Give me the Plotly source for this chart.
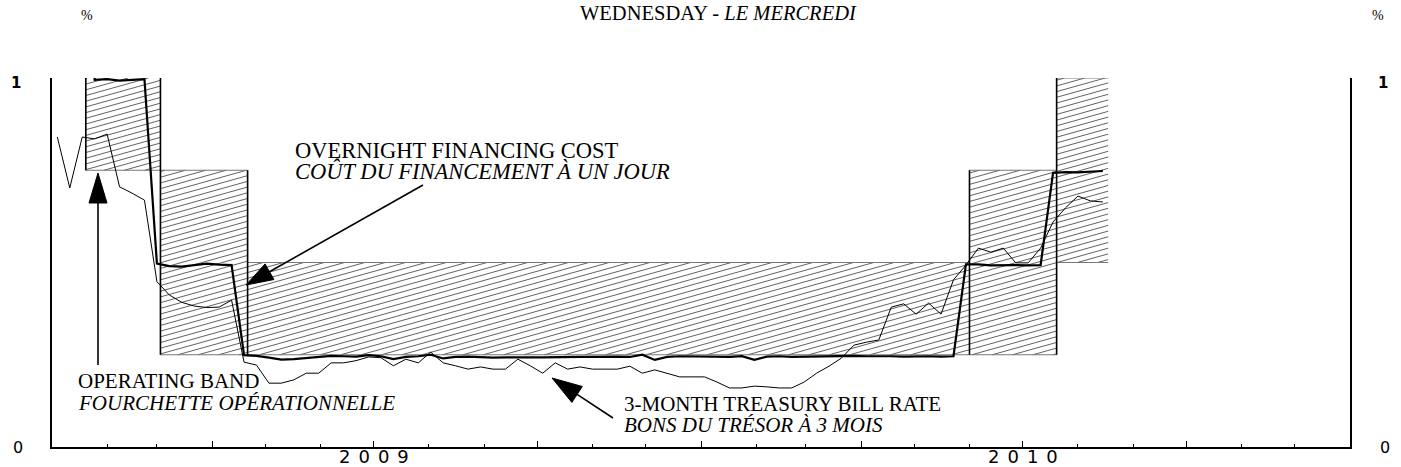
import numpy as np
import pandas as pd
import plotly.graph_objects as go

# ---------------- data ----------------
# weekly observations (plotted one point per week)
week_dates = pd.date_range("2009-01-04", periods=85, freq="7D").strftime("%Y-%m-%d").tolist()

overnight_cost = [1.5, 1.5, 1.5, 0.995, 0.997, 0.993, 0.996, 0.997, 0.497, 0.490,
                  0.489, 0.493, 0.497, 0.494, 0.493, 0.249, 0.247, 0.242, 0.237, 0.238,
                  0.241, 0.246, 0.247, 0.246, 0.245, 0.249, 0.246, 0.238, 0.244, 0.246,
                  0.250, 0.240, 0.244, 0.245, 0.243, 0.242, 0.243, 0.244, 0.243, 0.243,
                  0.244, 0.243, 0.244, 0.244, 0.245, 0.245, 0.244, 0.250, 0.236, 0.244,
                  0.246, 0.245, 0.246, 0.245, 0.244, 0.246, 0.236, 0.245, 0.246, 0.244,
                  0.245, 0.246, 0.245, 0.246, 0.247, 0.246, 0.247, 0.246, 0.245, 0.246,
                  0.246, 0.245, 0.246, 0.495, 0.495, 0.492, 0.493, 0.493, 0.492, 0.493,
                  0.743, 0.745, 0.744, 0.746, 0.748]

tbill_3m = [0.840, 0.702, 0.840, 0.835, 0.848, 0.705, 0.688, 0.669, 0.448, 0.412,
            0.392, 0.382, 0.378, 0.379, 0.398, 0.230, 0.222, 0.173, 0.173, 0.182,
            0.200, 0.200, 0.228, 0.228, 0.234, 0.244, 0.242, 0.220, 0.238, 0.228,
            0.257, 0.228, 0.220, 0.211, 0.217, 0.211, 0.211, 0.238, 0.220, 0.200,
            0.228, 0.211, 0.217, 0.211, 0.211, 0.211, 0.219, 0.200, 0.209, 0.200,
            0.190, 0.190, 0.190, 0.176, 0.160, 0.160, 0.165, 0.163, 0.160, 0.160,
            0.176, 0.200, 0.219, 0.241, 0.276, 0.284, 0.290, 0.379, 0.388, 0.360,
            0.390, 0.360, 0.453, 0.493, 0.539, 0.528, 0.539, 0.499, 0.499, 0.539,
            0.610, 0.648, 0.680, 0.667, 0.664]

# operating band (changes on announcement dates)
band_dates = ["2009-01-01", "2009-01-20", "2009-03-03", "2009-04-21", "2010-06-01", "2010-07-20", "2010-08-18"]
band_low = [1.25, 0.75, 0.25, 0.25, 0.25, 0.50, 0.50]
band_high = [1.75, 1.25, 0.75, 0.50, 0.75, 1.00, 1.00]

year_labels = ["2009", "2010"]
year_label_dates = ["2009-07-01", "2010-07-01"]
y_tick_labels = ["0", "1"]

# ---------------- layout geometry ----------------
W, H = 1401, 467
L, R, T, B = 52, 51, 78, 20
PW, PH = W - L - R, H - T - B
X0, X1 = "2009-01-01", "2011-01-01"
Y0, Y1 = 0.0, 1.0


def px(x):
    return (x - L) / PW


def py(y):
    return (H - B - y) / PH


SERIF = "Liberation Serif"
SANS = "DejaVu Sans"

fig = go.Figure()

# ---- hatch lines for the operating band (built from the band arrays) ----
t0 = pd.Timestamp(X0)
ndays = (pd.Timestamp(X1) - t0).days
px_per_day = PW / ndays
px_per_unit = PH / (Y1 - Y0)
slope = 0.28 * px_per_day / px_per_unit
gap = 5.7 / px_per_unit
bd = [(pd.Timestamp(d) - t0).days for d in band_dates]
hx, hy = [], []
for i in range(len(bd) - 1):
    d0, d1 = bd[i], bd[i + 1]
    v0, v1 = max(band_low[i], Y0), min(band_high[i], Y1)
    if v1 <= v0:
        continue
    cmin = v0 - slope * d1
    cmax = v1 - slope * d0
    for k in range(int(np.floor(cmin / gap)), int(np.ceil(cmax / gap)) + 1):
        c = k * gap
        da = max(d0, (v0 - c) / slope)
        db = min(d1, (v1 - c) / slope)
        if db > da:
            hx += [(t0 + pd.Timedelta(days=da)).isoformat(), (t0 + pd.Timedelta(days=db)).isoformat(), None]
            hy += [c + slope * da, c + slope * db, None]

fig.add_trace(go.Scatter(x=hx, y=hy, mode="lines", line=dict(color="#3a3a3a", width=0.8),
                         hoverinfo="skip", showlegend=False))

# band horizontal edges (grey) and vertical edges (black)
fig.add_trace(go.Scatter(x=band_dates, y=band_low, mode="lines", line=dict(color="#777", width=1, shape="hv"),
                         hoverinfo="skip", showlegend=False))
fig.add_trace(go.Scatter(x=band_dates, y=band_high, mode="lines", line=dict(color="#777", width=1, shape="hv"),
                         hoverinfo="skip", showlegend=False))
vx, vy = [], []
for i in range(1, len(band_dates) - 1):
    lo = min(band_low[i - 1], band_low[i], band_high[i - 1], band_high[i])
    hi = max(band_low[i - 1], band_low[i], band_high[i - 1], band_high[i])
    vx += [band_dates[i], band_dates[i], None]
    vy += [lo, hi, None]
fig.add_trace(go.Scatter(x=vx, y=vy, mode="lines", line=dict(color="black", width=1.6),
                         hoverinfo="skip", showlegend=False))

# ---- series ----
fig.add_trace(go.Scatter(x=week_dates, y=tbill_3m, mode="lines", line=dict(color="black", width=1),
                         name="3-month treasury bill rate", showlegend=False))
fig.add_trace(go.Scatter(x=week_dates, y=overnight_cost, mode="lines", line=dict(color="black", width=2.2),
                         name="Overnight financing cost", showlegend=False))

# ---- axes ----
fig.update_xaxes(range=[X0, X1], showgrid=False, zeroline=False, showline=True, linecolor="black", linewidth=1.5,
                 ticks="inside", ticklen=6, tickwidth=1.2, tickcolor="black", tick0="2009-01-01", dtick="M3",
                 showticklabels=False, mirror=False,
                 minor=dict(ticks="inside", ticklen=3, tickwidth=1, tickcolor="black", dtick="M1",
                            tick0="2009-01-01", showgrid=False))
fig.update_yaxes(range=[Y0, Y1], showgrid=False, zeroline=False, showline=True, linecolor="black", linewidth=1.5,
                 ticks="inside", ticklen=8, tickwidth=1.2, tickcolor="black", tickvals=[0, 1],
                 showticklabels=False, mirror="ticks")

ann = []
# title
ann.append(dict(text="WEDNESDAY - <i>LE MERCREDI</i>", x=px(718), y=py(0), xref="paper", yref="paper",
                showarrow=False, xanchor="center", yanchor="top", font=dict(family=SERIF, size=20.5, color="black")))
# % units
for xp in (87, 1378):
    ann.append(dict(text="%", x=px(xp), y=py(15), xref="paper", yref="paper", showarrow=False,
                    xanchor="center", yanchor="middle", font=dict(family=SERIF, size=14, color="black")))
# y tick labels
for xp in (16, 1383):
    ann.append(dict(text="<b>" + y_tick_labels[1] + "</b>", x=px(xp), y=py(83), xref="paper", yref="paper",
                    showarrow=False, xanchor="center", yanchor="middle", font=dict(family=SANS, size=15, color="black")))
    ann.append(dict(text=y_tick_labels[0], x=px(xp + 2), y=py(447), xref="paper", yref="paper",
                    showarrow=False, xanchor="center", yanchor="middle", font=dict(family=SANS, size=16, color="black")))
# year labels
for lab, d in zip(year_labels, year_label_dates):
    ann.append(dict(text='<span style="letter-spacing:8px">' + lab + '</span>', x=d, y=py(456), xref="x", yref="paper",
                    showarrow=False, xanchor="center", yanchor="middle", xshift=4,
                    font=dict(family=SANS, size=18, color="black")))

# series / band labels
labels = [
    ("OVERNIGHT FINANCING COST", 293, 150, 22.5),
    ("<i>COÛT DU FINANCEMENT À UN JOUR</i>", 293, 171, 22.5),
    ("OPERATING BAND", 76, 381, 21),
    ("<i>FOURCHETTE OPÉRATIONNELLE</i>", 76, 403, 21),
    ("3-MONTH TREASURY BILL RATE", 622, 404, 21),
    ("<i>BONS DU TRÉSOR À 3 MOIS</i>", 622, 425, 21),
]
for txt, xp, yp, fs in labels:
    ann.append(dict(text=txt, x=px(xp), y=py(yp), xref="paper", yref="paper", showarrow=False,
                    xanchor="left", yanchor="middle", font=dict(family=SERIF, size=fs, color="black")))

# ---- arrows (line + filled head) ----
shapes = []


def arrow(x0, y0, tipx, tipy, hl, hw):
    dx, dy = tipx - x0, tipy - y0
    n = (dx * dx + dy * dy) ** 0.5
    ux, uy = dx / n, dy / n
    bx, by = tipx - hl * ux, tipy - hl * uy
    nx, ny = -uy * hw / 2, ux * hw / 2
    shapes.append(dict(type="line", xref="paper", yref="paper", x0=px(x0), y0=py(y0), x1=px(bx), y1=py(by),
                       line=dict(color="black", width=1.6)))
    path = "M {:.5f},{:.5f} L {:.5f},{:.5f} L {:.5f},{:.5f} Z".format(
        px(tipx), py(tipy), px(bx + nx), py(by + ny), px(bx - nx), py(by - ny))
    shapes.append(dict(type="path", xref="paper", yref="paper", path=path, fillcolor="black",
                       line=dict(color="black", width=1)))


arrow(423, 185, 246, 285, 27, 18)
arrow(98, 365, 98, 173, 30, 18)
arrow(613, 418, 552, 378, 30, 19)

fig.update_layout(width=W, height=H, margin=dict(l=L, r=R, t=T, b=B), plot_bgcolor="white", paper_bgcolor="white",
                  showlegend=False, annotations=ann, shapes=shapes)

fig.write_html("out.html", config={"displayModeBar": False},
               post_script="document.body.style.margin='0px';document.body.style.padding='0px';")
